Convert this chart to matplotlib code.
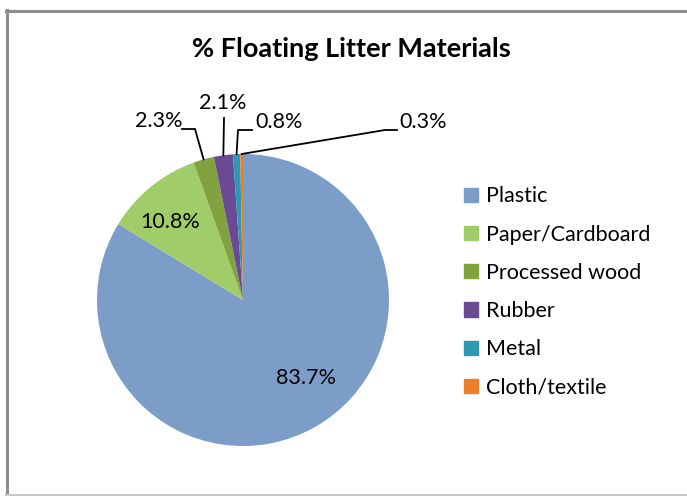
import numpy as np
import matplotlib
matplotlib.use("Agg")
import matplotlib.pyplot as plt
from matplotlib.lines import Line2D

categories = ["Plastic", "Paper/Cardboard", "Processed wood", "Rubber", "Metal", "Cloth/textile"]
values = [83.7, 10.8, 2.3, 2.1, 0.8, 0.3]
colors = ["#7B9DC8", "#A0CD6A", "#82A23E", "#6A4B93", "#2F99B3", "#EC7E2B"]
title = "% Floating Litter Materials"

plt.rcParams['font.family'] = ['Lato', 'DejaVu Sans']

W, H = 687, 496
fig = plt.figure(figsize=(W / 100, H / 100), dpi=100)

# pie centre (243,300) px, radius 146 px
cx, cy, r = 243, 300, 146
ax = fig.add_axes([(cx - r) / W, (H - cy - r) / H, 2 * r / W, 2 * r / H])
wedges, _ = ax.pie(values, colors=colors, startangle=90, counterclock=False,
                   radius=1, wedgeprops=dict(linewidth=0))
ax.set_xlim(-1, 1)
ax.set_ylim(-1, 1)
ax.set_aspect('auto')
ax.axis('off')

def px(x, y):
    return ((x - cx) / r, (cy - y) / r)

fs = 15.5
fr = np.cumsum([0] + values) / sum(values)
mids = (fr[:-1] + fr[1:]) / 2
ang = 2 * np.pi * mids
ex = np.sin(ang)
ey = np.cos(ang)

ax.text(*px(306, 378), f"{values[0]}%", ha='center', va='center', fontsize=fs)
ax.text(*px(170, 222), f"{values[1]}%", ha='center', va='center', fontsize=fs)

# outside labels: (elbow px, line end px, text px, ha)
outs = {
    2: ((195, 129), (182, 129), (182, 121), 'right'),
    3: ((224, 118), None, (223, 103), 'center'),
    4: ((238, 130), (252, 130), (255, 122), 'left'),
    5: ((385, 130), (397, 130), (399, 122), 'left'),
}
for i, (elbow, lend, tpos, ha) in outs.items():
    exx, eyy = px(*elbow)
    xs = [ex[i], exx]
    ys = [ey[i], eyy]
    if lend is not None:
        lx, ly = px(*lend)
        xs.append(lx)
        ys.append(ly)
    ax.add_line(Line2D(xs, ys, color='black', linewidth=1.3, clip_on=False))
    ax.text(*px(*tpos), f"{values[i]}%", ha=ha, va='center', fontsize=fs, clip_on=False)

fig.text(351 / W, 1 - 49 / H, title, ha='center', va='center', fontsize=19.5, fontweight='bold')

handles = [plt.Rectangle((0, 0), 1, 1, color=c) for c in colors]
fig.legend(handles, categories, loc='center left', bbox_to_anchor=(464 / W, 1 - 292 / H),
           frameon=False, fontsize=15.5, handlelength=0.65, handleheight=0.65,
           handletextpad=0.35, labelspacing=0.85, borderaxespad=0, borderpad=0)

# chart border
fig.add_artist(Line2D([6.5 / W, 6.5 / W], [0, 1 - 10 / H], transform=fig.transFigure, color='#8C8C8C', linewidth=2.2))
fig.add_artist(Line2D([6 / W, 1], [1 - 10.5 / H, 1 - 10.5 / H], transform=fig.transFigure, color='#8C8C8C', linewidth=2.2))
fig.add_artist(Line2D([6 / W, 1], [1.5 / H, 1.5 / H], transform=fig.transFigure, color='#C8C8C8', linewidth=1.5))

fig.savefig("out.png", dpi=100, facecolor='white')
